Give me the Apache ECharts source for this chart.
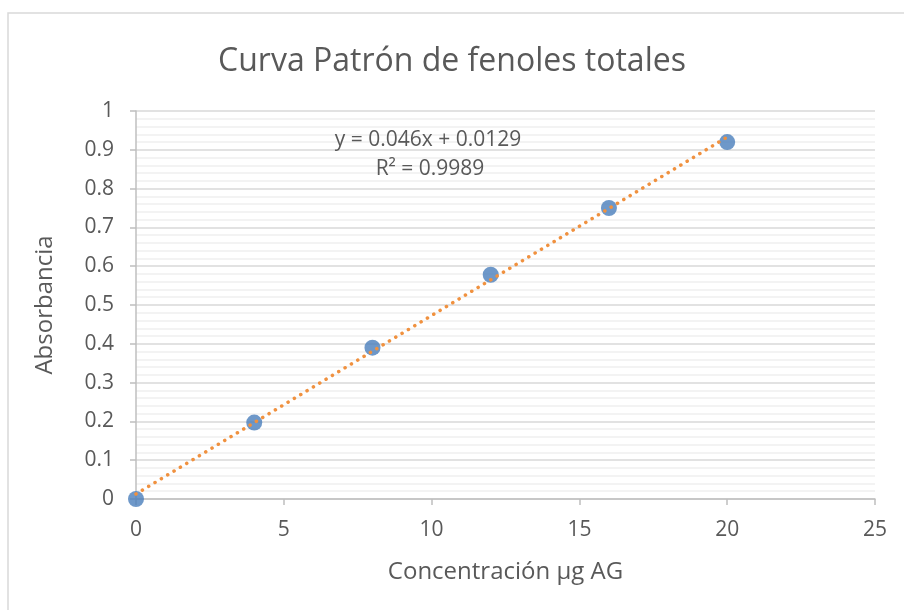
<!DOCTYPE html>
<html>
<head>
<meta charset="utf-8">
<script src="https://cdn.jsdelivr.net/npm/echarts@6/dist/echarts.min.js"></script>
<style>
  html, body { margin: 0; padding: 0; background: #fff; }
  #chart { width: 904px; height: 610px; }
</style>
</head>
<body>
<div id="chart"></div>
<script>
// measured points
const concentracion = [0, 4, 8, 12, 16, 20]
const absorbancia = [0, 0.197, 0.39, 0.578, 0.75, 0.92]
// linear trendline shown on the chart
const slope = 0.046
const intercept = 0.0129
const trendX = [0, 20]
const ecuacion = ['y = 0.046x + 0.0129', 'R² = 0.9989']

const font = '"Open Sans", sans-serif'
const dom = echarts.init(document.getElementById('chart'))

const option = {
  backgroundColor: '#fff',
  animation: false,
  title: {
    text: 'Curva Patrón de fenoles totales',
    left: 'center',
    top: 41,
    textStyle: { fontFamily: font, fontSize: 32, fontWeight: 'normal', color: '#595959' }
  },
  grid: { left: 136, right: 29, top: 111, bottom: 111 },
  xAxis: {
    type: 'value',
    min: 0,
    max: 25,
    interval: 5,
    name: 'Concentración µg AG',
    nameLocation: 'middle',
    nameGap: 61,
    nameTextStyle: { fontFamily: font, fontSize: 24, color: '#595959' },
    axisLine: { show: true, onZero: false, lineStyle: { color: '#bfbfbf', width: 1.5 } },
    axisTick: { show: true, length: 6, lineStyle: { color: '#bfbfbf', width: 1.5 } },
    axisLabel: { fontFamily: font, fontSize: 21, color: '#595959', margin: 21 },
    splitLine: { show: false }
  },
  yAxis: {
    type: 'value',
    min: 0,
    max: 1,
    interval: 0.1,
    name: 'Absorbancia',
    nameLocation: 'middle',
    nameGap: 79,
    nameTextStyle: { fontFamily: font, fontSize: 24, color: '#595959' },
    axisLine: { show: true, lineStyle: { color: '#bfbfbf', width: 1.5 } },
    axisTick: { show: true, length: 6, lineStyle: { color: '#bfbfbf', width: 1.5 } },
    axisLabel: { fontFamily: font, fontSize: 21, color: '#595959', margin: 22 },
    splitLine: { show: true, lineStyle: { color: '#d9d9d9', width: 1.5 } },
    minorTick: { show: false, splitNumber: 5 },
    minorSplitLine: { show: true, lineStyle: { color: '#f0f0f0', width: 1.5 } }
  },
  graphic: [
    {
      type: 'rect',
      shape: { x: 8, y: 13, width: 1000, height: 700 },
      style: { fill: 'none', stroke: '#d9d9d9', lineWidth: 1.5 },
      silent: true
    },
    {
      type: 'text',
      z: 100,
      x: 428,
      y: 140,
      style: { text: ecuacion[0], font: '21px ' + font, fill: '#595959', align: 'center', verticalAlign: 'middle' }
    },
    {
      type: 'text',
      z: 100,
      x: 430,
      y: 169,
      style: { text: ecuacion[1], font: '21px ' + font, fill: '#595959', align: 'center', verticalAlign: 'middle' }
    }
  ],
  series: [
    {
      name: 'Absorbancia',
      type: 'scatter',
      symbolSize: 16,
      itemStyle: { color: '#4a7ebb' },
      data: concentracion.map((x, i) => [x, absorbancia[i]]),
      z: 2
    },
    {
      name: 'Lineal',
      type: 'line',
      showSymbol: false,
      symbol: 'none',
      lineStyle: { color: '#f0913f', width: 3.5, type: [0.1, 7.3], cap: 'round' },
      data: trendX.map(x => [x, slope * x + intercept]),
      z: 3
    }
  ]
}

dom.setOption(option)
window.addEventListener('resize', () => dom.resize())
</script>
</body>
</html>
